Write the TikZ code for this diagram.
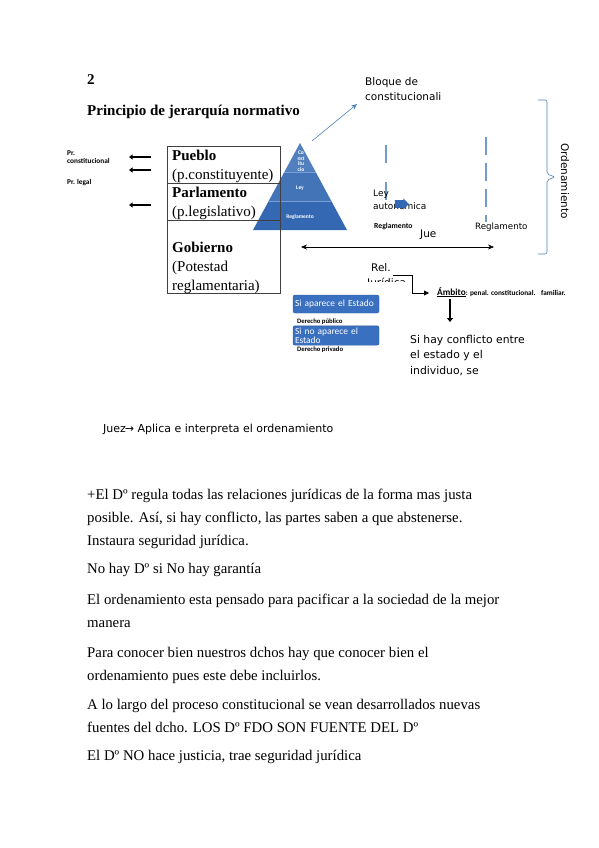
\documentclass[tikz,border=0pt]{standalone}
\usepackage{fontspec}
\setmainfont{Liberation Serif}
\newfontfamily\dejavu{DejaVu Sans}
\newfontfamily\carlito{Carlito}
\usetikzlibrary{arrows.meta,shapes.arrows}

\definecolor{pyrblue}{RGB}{52,104,178}
\definecolor{pyrline}{RGB}{120,160,215}
\definecolor{linkblue}{RGB}{79,129,189}
\definecolor{boxblue}{RGB}{58,112,192}

\begin{document}
\begin{tikzpicture}[
        x=1pt, y=-1pt,
        body/.style={
            anchor=base west,
            inner sep=0pt,
            align=left,
            font=\fontsize{14.8}{23}\selectfont,
        },
        head/.style={
            anchor=base west,
            inner sep=0pt,
            font=\bfseries\fontsize{15}{18}\selectfont,
        },
        boxtxt/.style={
            anchor=base west,
            inner sep=0pt,
            align=left,
            font=\fontsize{15}{19}\selectfont,
        },
        sans/.style={
            anchor=base west,
            inner sep=0pt,
            align=left,
            font=\dejavu\fontsize{10.5}{15}\selectfont,
        },
        tiny/.style={
            anchor=base west,
            inner sep=0pt,
            align=left,
            font=\carlito\bfseries\fontsize{6.7}{9}\selectfont,
        },
        pyrtxt/.style={
            inner sep=0pt,
            text=white,
            align=center,
            font=\carlito\bfseries\fontsize{5.5}{5.5}\selectfont,
        },
        estado/.style={
            rectangle,
            rounded corners=2pt,
            fill=boxblue,
            draw=boxblue!80!black,
            text=white,
            minimum width=86pt,
            text width=82pt,
            align=left,
            inner sep=2pt,
            font=\carlito\fontsize{9.4}{9.4}\selectfont,
        },
        leftarrow/.style={
            line width=2.6pt,
            -{Triangle[length=3.5pt,width=5pt]},
        },
    ]
    \useasboundingbox[fill=white] (0,0) rectangle (599,848);

    % titulo
    \node [head] (num) at (87,85) {2};
    \node [head] (titulo) at (87,116) {Principio de jerarquía normativo};

    % principios a la izquierda
    \node [tiny, font=\carlito\bfseries\fontsize{7.3}{9}\selectfont] (prconst) at (67,163) {Pr.\\[-1pt]constitucional};
    \node [tiny, font=\carlito\bfseries\fontsize{7.3}{9}\selectfont] (prlegal) at (67,184) {Pr. legal};
    \coordinate (a1s) at (151,157); \coordinate (a1e) at (129,157);
    \coordinate (a2s) at (151,170); \coordinate (a2e) at (129,170);
    \coordinate (a3s) at (151,205); \coordinate (a3e) at (129,205);
    \draw [leftarrow] (a1s) -- (a1e);
    \draw [leftarrow] (a2s) -- (a2e);
    \draw [leftarrow] (a3s) -- (a3e);

    % piramide
    \fill [pyrblue!85!white] (300,143) -- (315.7,172) -- (284.3,172) -- cycle;
    \fill [pyrblue!92!white] (284.3,172) -- (315.7,172) -- (331.3,201) -- (268.7,201) -- cycle;
    \fill [pyrblue] (268.7,201) -- (331.3,201) -- (347,230) -- (253,230) -- cycle;
    \draw [pyrline, thin] (284.3,172) -- (315.7,172);
    \draw [pyrline, thin] (268.7,201) -- (331.3,201);
    \node [pyrtxt] (pconst) at (301,161) {Co\\nst\\itu\\cio};
    \node [pyrtxt] (pley) at (300,188) {Ley};
    \node [pyrtxt] (pregl) at (300,217) {Reglamento};

    % cajas de poderes
    \draw [black!75, semithick] (167,146) rectangle (280,293);
    \draw [black!75, semithick] (167,183) -- (280,183);
    \draw [black!75, semithick] (167,220) -- (280,220);
    \node [boxtxt] (pueblo) at (172,179) {\textbf{Pueblo}\\(p.constituyente)};
    \node [boxtxt] (parlam) at (172,216) {\textbf{Parlamento}\\(p.legislativo)};
    \node [boxtxt] (gobierno) at (172,290) {\textbf{Gobierno}\\(Potestad\\reglamentaria)};

    % bloque de constitucionalidad
    \node [sans] (bloque) at (365,101) {Bloque de\\constitucionali};
    \coordinate (bqs) at (312,141);
    \coordinate (bqe) at (357,104);
    \draw [linkblue, semithick, -{Stealth[length=6pt,width=5pt]}] (bqs) -- (bqe);

    % lineas discontinuas
    \draw [linkblue!80, line width=1.3pt, dash pattern=on 18pt off 19pt] (386,145) -- (386,212);
    \draw [linkblue!80, line width=1.3pt, dash pattern=on 18pt off 8pt] (486,137) -- (486,222);

    % niveles autonomicos
    \node [sans, font=\dejavu\fontsize{9}{13}\selectfont] (leyauto) at (373,209) {Ley\\autonómica};
    \node [single arrow, fill=pyrblue, inner sep=3.5pt, minimum height=14pt, minimum width=11pt,
           single arrow head extend=1.5pt] (flecha) at (400,204) {};
    \node [tiny, font=\carlito\bfseries\fontsize{7.7}{8}\selectfont] (reglauto) at (374,228) {Reglamento};
    \node [sans] (jue) at (420,237) {Jue};
    \node [sans, font=\dejavu\fontsize{8.7}{11}\selectfont] (reglloc) at (475,229) {Reglamento};

    % flecha doble
    \coordinate (jl) at (301,247);
    \coordinate (jr) at (494,247);
    \draw [semithick, {Stealth[length=6pt,width=5pt]}-{Stealth[length=6pt,width=5pt]}] (jl) -- (jr);

    % llave del ordenamiento
    \draw [linkblue, semithick, rounded corners=2pt]
        (538,100) -- (547,100) -- (547,174) -- (555,177) -- (547,180) -- (547,254) -- (538,254);
    \node [font=\dejavu\fontsize{10.5}{12}\selectfont, rotate=-90, inner sep=0pt] (orden) at (565,181) {Ordenamiento};

    % relacion juridica
    \node [sans] (rel) at (371,271) {Rel.};
    \begin{scope}
        \clip (360,273) rectangle (412,281);
        \node [sans] (jurid) at (367,286) {Jurídica};
    \end{scope}
    \coordinate (r1) at (393,275);
    \coordinate (r2) at (429,293);
    \draw [thick, -{Triangle[length=5pt,width=5pt]}] (r1) -- (412,275) |- (r2);
    \node [tiny, font=\carlito\bfseries\fontsize{7.3}{8}\selectfont] (ambito) at (437,295)
        {{\fontsize{9.3}{9}\selectfont\underline{Ámbito}}: penal. constitucional.~~ familiar.};
    \coordinate (d1) at (450,299);
    \coordinate (d2) at (450,322);
    \draw [line width=2.6pt, -{Triangle[length=4pt,width=6pt]}] (d1) -- (d2);
    \node [sans, font=\dejavu\fontsize{10.8}{15.5}\selectfont] (conflicto) at (410,374)
        {Si hay conflicto entre\\el estado y el\\individuo, se};

    % derecho publico y privado
    \node [estado, minimum height=18pt] (aparece) at (336,304) {Si aparece el Estado};
    \node [tiny] (publico) at (297,323) {Derecho público};
    \node [estado, minimum height=19pt, font=\carlito\fontsize{9.4}{8.8}\selectfont] (noaparece) at (336,335.5)
        {Si no aparece el\\Estado};
    \node [tiny] (privado) at (297,351) {Derecho privado};

    % juez
    \node [sans, font=\dejavu\fontsize{11}{12}\selectfont] (juez) at (103,432)
        {Juez\kern-1pt→ Aplica e interpreta el ordenamiento};

    % texto
    \node [body] (p1) at (87,545) {+El Dº regula todas las relaciones jurídicas de la forma mas justa\\
        posible. Así, si hay conflicto, las partes saben a que abstenerse.\\Instaura seguridad jurídica.};
    \node [body] (p2) at (87,573) {No hay Dº si No hay garantía};
    \node [body] (p3) at (87,627) {El ordenamiento esta pensado para pacificar a la sociedad de la mejor\\manera};
    \node [body] (p4) at (87,680) {Para conocer bien nuestros dchos hay que conocer bien el\\
        ordenamiento pues este debe incluirlos.};
    \node [body] (p5) at (87,732) {A lo largo del proceso constitucional se vean desarrollados nuevas\\
        fuentes del dcho. LOS Dº FDO SON FUENTE DEL Dº};
    \node [body] (p6) at (87,760) {El Dº NO hace justicia, trae seguridad jurídica};
\end{tikzpicture}
\end{document}
